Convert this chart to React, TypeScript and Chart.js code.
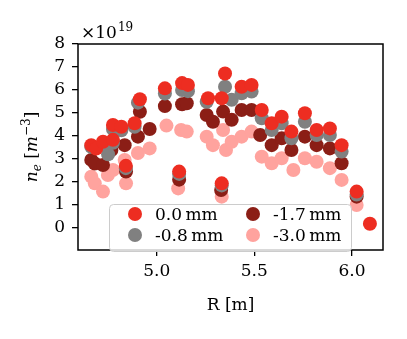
import React, { useEffect, useRef } from 'react';
import { Chart, registerables } from 'chart.js';

Chart.register(...registerables);

// ---- data ----
const seriesLabels = ['0.0\u2009mm', '-0.8\u2009mm', '-1.7\u2009mm', '-3.0\u2009mm'];
const seriesColors = ['#ED2D21', '#808080', '#8B1E16', '#FFA39E'];

const redR = [4.665, 4.69, 4.725, 4.776, 4.776, 4.819, 4.842, 4.887, 4.914, 5.042, 5.115, 5.13, 5.16, 5.263, 5.333, 5.333, 5.35, 5.435, 5.486, 5.538, 5.589, 5.64, 5.69, 5.759, 5.819, 5.887, 5.947, 6.024, 6.092];
const redV = [3.6, 3.45, 3.75, 3.83, 4.48, 4.4, 2.7, 4.55, 5.6, 6.07, 2.45, 6.3, 6.22, 5.64, 1.94, 5.64, 6.72, 6.14, 6.22, 5.13, 4.55, 4.84, 4.19, 4.99, 4.26, 4.33, 3.6, 1.58, 0.18];

const grayR = [4.665, 4.725, 4.751, 4.776, 4.776, 4.819, 4.842, 4.887, 4.904, 5.042, 5.115, 5.13, 5.16, 5.256, 5.333, 5.35, 5.384, 5.435, 5.486, 5.538, 5.589, 5.64, 5.69, 5.759, 5.819, 5.887, 5.947, 6.024];
const grayV = [3.53, 3.6, 3.2, 4.3, 3.7, 4.25, 2.6, 4.4, 5.45, 5.85, 2.35, 6.0, 5.95, 5.49, 1.85, 6.14, 5.57, 5.86, 5.93, 4.77, 4.26, 4.55, 3.9, 4.62, 4.04, 4.04, 3.32, 1.45];

const darkR = [4.665, 4.683, 4.725, 4.768, 4.836, 4.843, 4.904, 4.914, 4.964, 5.042, 5.115, 5.13, 5.154, 5.256, 5.288, 5.33, 5.34, 5.384, 5.435, 5.486, 5.53, 5.589, 5.64, 5.69, 5.759, 5.819, 5.887, 5.947, 6.024];
const darkV = [2.96, 2.8, 2.74, 3.39, 3.6, 2.45, 3.97, 5.05, 4.3, 5.3, 2.1, 5.38, 5.42, 4.91, 4.62, 1.65, 5.06, 4.7, 5.13, 5.13, 4.04, 3.6, 3.9, 3.39, 3.97, 3.6, 3.46, 2.81, 1.36];

const pinkR = [4.665, 4.683, 4.725, 4.75, 4.776, 4.836, 4.843, 4.904, 4.964, 5.05, 5.11, 5.125, 5.154, 5.256, 5.288, 5.333, 5.34, 5.355, 5.384, 5.435, 5.486, 5.538, 5.589, 5.64, 5.7, 5.759, 5.819, 5.887, 5.947, 6.024];
const pinkV = [2.23, 1.94, 1.58, 2.3, 2.52, 2.96, 1.94, 3.26, 3.46, 4.45, 1.72, 4.26, 4.19, 3.97, 3.6, 1.36, 4.26, 3.39, 3.75, 3.97, 4.19, 3.1, 2.81, 3.03, 2.52, 3.03, 2.88, 2.6, 2.09, 1.0];

const xTicks = [5.0, 5.5, 6.0];
const yTicks = [0, 1, 2, 3, 4, 5, 6, 7, 8];
const xRange = [4.597, 6.159];
const yRange = [-0.96, 8];

const FONT = '"DejaVu Serif", serif';
const FS = 17;

const seriesR = [redR, grayR, darkR, pinkR];
const seriesV = [redV, grayV, darkV, pinkV];

function drawRich(ctx: CanvasRenderingContext2D, parts: any[], cx: number, baseY: number) {
  let total = 0;
  for (const p of parts) {
    ctx.font = `${p.italic ? 'italic ' : ''}${p.size}px ${FONT}`;
    p.w = ctx.measureText(p.t).width;
    total += p.w;
  }
  let x = cx - total / 2;
  ctx.textAlign = 'left';
  ctx.textBaseline = 'alphabetic';
  for (const p of parts) {
    ctx.font = `${p.italic ? 'italic ' : ''}${p.size}px ${FONT}`;
    ctx.fillText(p.t, x, baseY + (p.dy || 0));
    x += p.w;
  }
}

const decorPlugin = {
  id: 'decor',
  afterDatasetsDraw(chart: any) {
    const { ctx, chartArea: a } = chart;
    ctx.save();
    // frame
    ctx.strokeStyle = '#000';
    ctx.lineWidth = 1.5;
    ctx.strokeRect(a.left, a.top, a.right - a.left, a.bottom - a.top);

    ctx.fillStyle = '#000';
    // x title
    drawRich(ctx, [{ t: 'R [m]', size: FS }], (a.left + a.right) / 2, 310);
    // offset text
    ctx.font = `${FS}px ${FONT}`;
    ctx.textAlign = 'left';
    ctx.textBaseline = 'alphabetic';
    ctx.fillText('\u00d710', 81, 38);
    const w = ctx.measureText('\u00d710').width;
    ctx.font = `12px ${FONT}`;
    ctx.fillText('19', 81 + w + 1, 31);

    // y title
    ctx.save();
    ctx.translate(37, (a.top + a.bottom) / 2);
    ctx.rotate(-Math.PI / 2);
    drawRich(ctx, [
      { t: 'n', size: FS, italic: true },
      { t: 'e', size: 12, italic: true, dy: 4 },
      { t: ' [', size: FS },
      { t: 'm', size: FS, italic: true },
      { t: '\u22123', size: 12, dy: -7 },
      { t: ']', size: FS },
    ], 0, 0);
    ctx.restore();

    // legend
    const lx = 109, ly = 204, lw = 242, lh = 47;
    ctx.beginPath();
    ctx.roundRect(lx + 0.5, ly + 0.5, lw, lh, 4);
    ctx.fillStyle = 'rgba(255,255,255,0.8)';
    ctx.fill();
    ctx.strokeStyle = '#cccccc';
    ctx.lineWidth = 1;
    ctx.stroke();
    const cols = [135, 253];
    const rows = [214, 235];
    for (let i = 0; i < 4; i++) {
      const c = Math.floor(i / 2), r = i % 2;
      ctx.beginPath();
      ctx.arc(cols[c], rows[r], 7, 0, Math.PI * 2);
      ctx.fillStyle = seriesColors[i];
      ctx.fill();
      ctx.fillStyle = '#000';
      ctx.font = `${FS}px ${FONT}`;
      ctx.textAlign = 'left';
      ctx.textBaseline = 'alphabetic';
      ctx.fillText(seriesLabels[i], cols[c] + 20, rows[r] + 6);
    }
    ctx.restore();
  },
};

export default function App() {
  const ref = useRef<HTMLCanvasElement>(null);
  useEffect(() => {
    document.body.style.margin = '0';
    const chart = new Chart(ref.current!, {
      type: 'scatter',
      data: {
        datasets: seriesLabels.map((lab, i) => ({
          label: lab,
          data: seriesR[i].map((r, j) => ({ x: r, y: seriesV[i][j] })),
          backgroundColor: seriesColors[i],
          borderWidth: 0,
          pointRadius: 7,
          pointHoverRadius: 7,
        })),
      },
      options: {
        responsive: false,
        animation: false,
        events: [],
        layout: { padding: { left: 0, top: 44, right: 24, bottom: 0 } },
        plugins: { legend: { display: false }, tooltip: { enabled: false } },
        scales: {
          x: {
            type: 'linear',
            min: xRange[0],
            max: xRange[1],
            afterBuildTicks: (s: any) => { s.ticks = xTicks.map((v) => ({ value: v })); },
            afterFit: (s: any) => { s.height = 89; },
            border: { display: false },
            grid: { drawOnChartArea: false, drawTicks: true, tickLength: 6, color: '#000', lineWidth: 1.3 },
            ticks: { color: '#000', font: { family: FONT, size: FS }, padding: 5, maxRotation: 0, callback: (v: any) => Number(v).toFixed(1) },
          },
          y: {
            type: 'linear',
            min: yRange[0],
            max: yRange[1],
            afterBuildTicks: (s: any) => { s.ticks = yTicks.map((v) => ({ value: v })); },
            afterFit: (s: any) => { s.width = 78; },
            border: { display: false },
            grid: { drawOnChartArea: false, drawTicks: true, tickLength: 6, color: '#000', lineWidth: 1.3 },
            ticks: { color: '#000', font: { family: FONT, size: FS }, padding: 7, callback: (v: any) => String(v) },
          },
        },
      },
      plugins: [decorPlugin],
    });
    return () => chart.destroy();
  }, []);
  return (
    <div style={{ position: 'absolute', left: 0, top: 0, width: 407, height: 339, background: '#fff' }}>
      <canvas ref={ref} width={407} height={339} style={{ width: 407, height: 339 }} />
    </div>
  );
}
